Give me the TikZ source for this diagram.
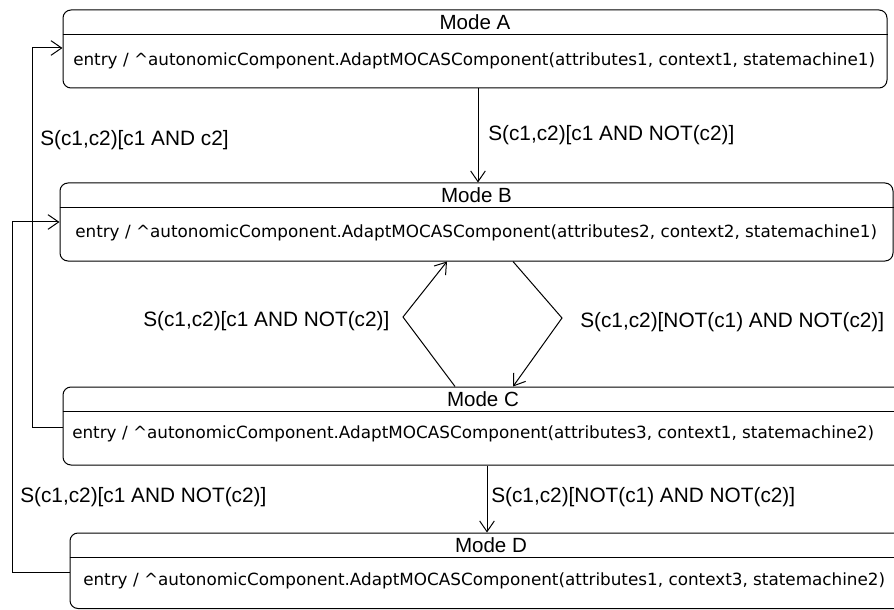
\documentclass[tikz,border=0pt]{standalone}
\usepackage{fontspec}
\setmainfont{Liberation Sans}
\newfontfamily\entryfont{DejaVu Sans}
\usetikzlibrary{arrows.meta, positioning, fit}

\begin{document}
\begin{tikzpicture}[
    x=0.75pt, y=-0.75pt,
    statebox/.style={draw, rounded corners=6pt, inner sep=0pt, line width=0.75pt},
    modetitle/.style={inner sep=0pt, font=\fontsize{15.4}{18}\selectfont},
    entryline/.style={anchor=west, inner sep=0pt, font=\entryfont\fontsize{12.6}{15}\selectfont},
    guard/.style={anchor=west, inner sep=0pt, font=\fontsize{15.6}{18}\selectfont},
    sep/.style={line width=0.75pt},
    arrow/.style={-{Straight Barb[length=8pt, width=11pt]}, line width=0.75pt}
]
    \useasboundingbox (0,0) rectangle (894,610);

    \node[statebox, fit={(63,10) (887,88)}] (modeA) {};
    \node[statebox, fit={(60,183) (893,261)}] (modeB) {};
    \node[statebox, fit={(63,387) (903,465)}] (modeC) {};
    \node[statebox, fit={(70,533) (912,608.5)}] (modeD) {};

    \node[modetitle] (titleA) at ([yshift=-9.4pt]modeA.north) {Mode A};
    \node[modetitle] (titleB) at ([yshift=-9.4pt]modeB.north) {Mode B};
    \node[modetitle] (titleC) at ([yshift=-9.4pt]modeC.north) {Mode C};
    \node[modetitle] (titleD) at ([yshift=-9.4pt]modeD.north) {Mode D};

    \draw[sep] ([yshift=-18.75pt]modeA.north west) -- ([yshift=-18.75pt]modeA.north east);
    \draw[sep] ([yshift=-18.75pt]modeB.north west) -- ([yshift=-18.75pt]modeB.north east);
    \draw[sep] ([yshift=-18.75pt]modeC.north west) -- ([yshift=-18.75pt]modeC.north east);
    \draw[sep] ([yshift=-18.75pt]modeD.north west) -- ([yshift=-18.75pt]modeD.north east);

    \node[entryline] (entryA) at (73,61) {entry / \^{}autonomicComponent.AdaptMOCASComponent(attributes1, context1, statemachine1)};
    \node[entryline] (entryB) at (75,233) {entry / \^{}autonomicComponent.AdaptMOCASComponent(attributes2, context2, statemachine1)};
    \node[entryline] (entryC) at (72,434) {entry / \^{}autonomicComponent.AdaptMOCASComponent(attributes3, context1, statemachine2)};
    \node[entryline] (entryD) at (83,581) {entry / \^{}autonomicComponent.AdaptMOCASComponent(attributes1, context3, statemachine2)};

    \node[guard] (guardCA) at (40,140) {S(c1,c2)[c1 AND c2]};
    \node[guard] (guardAB) at (488,135) {S(c1,c2)[c1 AND NOT(c2)]};
    \node[guard] (guardCB) at (143,321) {S(c1,c2)[c1 AND NOT(c2)]};
    \node[guard] (guardBC) at (580,322) {S(c1,c2)[NOT(c1) AND NOT(c2)]};
    \node[guard] (guardDB) at (20,497) {S(c1,c2)[c1 AND NOT(c2)]};
    \node[guard] (guardCD) at (491,497) {S(c1,c2)[NOT(c1) AND NOT(c2)]};

    \draw[arrow] (modeA.south -| 478,0) -- (modeB.north -| 478,0);
    \draw[arrow] (modeC.north -| 455,0) -- (403,317) -- (modeB.south -| 447,0);
    \draw[arrow] (modeB.south -| 513,0) -- (562,318) -- (modeC.north -| 513,0);
    \draw[arrow] (modeC.south -| 487,0) -- (modeD.north -| 487,0);
    \draw[arrow] (modeC.west |- 0,427) -- (32,427) |- (modeA.west |- 0,48);
    \draw[arrow] (modeD.west |- 0,572) -- (12,572) |- (modeB.west |- 0,222);
\end{tikzpicture}
\end{document}
